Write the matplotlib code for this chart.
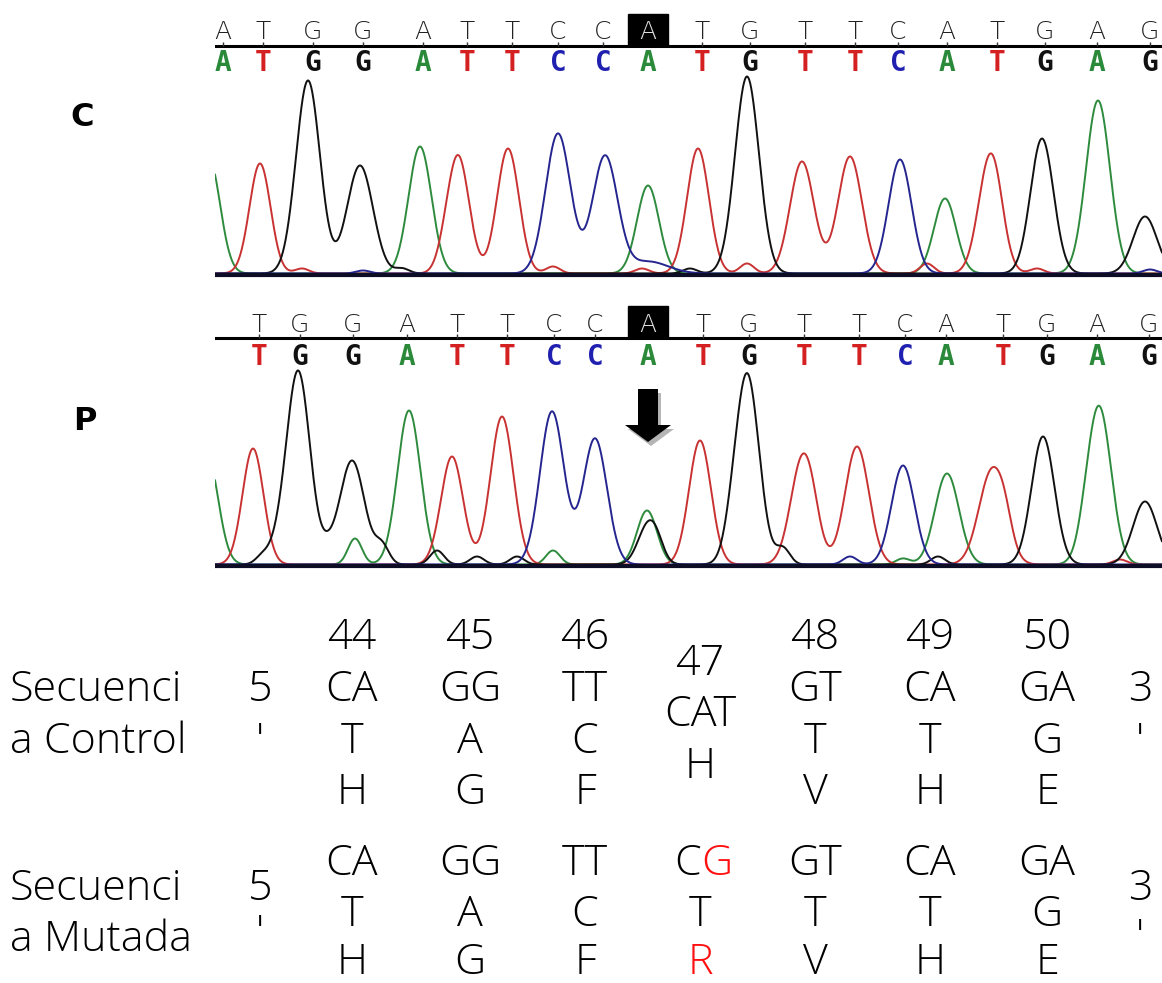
import numpy as np
import matplotlib
matplotlib.use("Agg")
import matplotlib.pyplot as plt
from matplotlib.patches import Rectangle, FancyArrow

W, H = 1162, 983

# ---------------- data ----------------
# Control (C) chromatogram: called bases & positions
c_bases = list("ATGGATTCCATGTTCATGAG")
c_pos = [223, 263, 313, 363, 423, 467, 512, 558, 603, 648,
         702, 750, 805, 855, 898, 947, 997, 1045, 1097, 1150]
# main peaks (base, scan position, intensity, width)
c_peak_base = list("ATGGATTCCATGTTCATGAG") + ["C"]
c_peak_pos = [209, 260, 308, 360, 420, 458, 508, 558, 605, 648,
              698, 747, 802, 850, 900, 945, 990, 1042, 1098, 1145, 648]
c_peak_h = [115, 110, 193, 108, 127, 118, 125, 140, 117, 88,
            125, 197, 112, 117, 114, 75, 115, 135, 173, 57, 12]
c_peak_w = [11, 10.5, 12, 13, 11.5, 11, 11, 12.5, 12.5, 11,
            11, 12, 12, 12, 11.5, 11, 11.5, 11.5, 12, 12, 20]
# small background humps
c_minor_base = list("TCGTTTGTTTTC")
c_minor_pos = [302, 363, 402, 443, 553, 642, 690, 747, 927, 997, 1037, 1150]
c_minor_h = [5, 3, 5, 5, 7, 5, 5, 10, 10, 8, 5, 4]

# Patient (P) chromatogram
p_bases = list("TGGATTCCATGTTCATGAG")
p_pos = [259, 300, 353, 407, 457, 507, 554, 595, 648, 703,
         749, 804, 859, 905, 946, 1003, 1047, 1097, 1149]
p_peak_base = list("ATGGATTCCAGTGTTCATGAG")
p_peak_pos = [207, 253, 298, 352, 409, 452, 502, 552, 595, 647, 648,
              700, 747, 803, 857, 903, 947, 992, 1043, 1099, 1145]
p_peak_h = [110, 116, 194, 104, 154, 108, 148, 153, 126, 54, 39,
            124, 191, 108, 118, 99, 91, 94, 128, 158, 63]
p_peak_w = [11, 10.5, 12, 12.5, 11.5, 11, 11.5, 12, 12, 10, 10,
            11, 12, 12, 12, 11.5, 12, 13, 11.5, 12, 12]
p_minor_base = list("GGGAGGGGAGTCGAGGTAT")
p_minor_pos = [263, 276, 327, 355, 382, 437, 477, 517, 553, 730,
               813, 850, 657, 903, 783, 938, 1005, 1085, 1120]
p_minor_h = [9, 8, 9, 26, 18, 14, 8, 8, 14, 8,
             8, 8, 10, 6, 16, 8, 16, 6, 5]

# sequence table
codon_num = ["44", "45", "46", "47", "48", "49", "50"]
codon_ctrl = ["CAT", "GGA", "TTC", "CAT", "GTT", "CAT", "GAG"]
aa_ctrl = ["H", "G", "F", "H", "V", "H", "E"]
codon_mut = ["CAT", "GGA", "TTC", "CGT", "GTT", "CAT", "GAG"]
aa_mut = ["H", "G", "F", "R", "V", "H", "E"]
row_labels = [("Secuenci", "a Control"), ("Secuenci", "a Mutada")]

# ---------------- style ----------------
trace_col = {"A": "#2e8b3e", "T": "#c83232", "G": "#111111", "C": "#25258f"}
letter_col = {"A": "#2a8a3a", "T": "#d42020", "G": "#111111", "C": "#2020b0"}

fig = plt.figure(figsize=(W / 100, H / 100), dpi=100)


def rect(x0, y0, x1, y1):
    return [x0 / W, 1 - y1 / H, (x1 - x0) / W, (y1 - y0) / H]


def chromatogram(ax, base_lbl, lbl_pos, pk_b, pk_x, pk_h, pk_w,
                 mn_b, mn_x, mn_h, y_top, y_line, y_col, highlight_idx):
    x = np.linspace(215, 1162, 3000)
    for b in "ATGC":
        y = np.zeros_like(x)
        for bb, px, ph, pw in zip(pk_b, pk_x, pk_h, pk_w):
            if bb == b:
                y += ph * np.exp(-0.5 * ((x - px) / pw) ** 2)
        for bb, px, ph in zip(mn_b, mn_x, mn_h):
            if bb == b:
                y += ph * np.exp(-0.5 * ((x - px) / 7) ** 2)
        ax.plot(x, y + 1.5, color=trace_col[b], lw=1.4, solid_capstyle="round")
    ax.axhline(0, color="#0d0d25", lw=3)
    ax.axhline(y_line, color="black", lw=2.2)
    for i, (b, px) in enumerate(zip(base_lbl, lbl_pos)):
        if i == highlight_idx:
            ax.add_patch(Rectangle((px - 20, y_line), 40, 32, color="black", zorder=3))
            ax.text(px, y_top, b, ha="center", va="center", color="#e0e0e0",
                    fontsize=18, family="DejaVu Sans", fontweight="light", zorder=4)
        else:
            ax.text(px, y_top, b, ha="center", va="center", color="#222222",
                    fontsize=18, family="DejaVu Sans", fontweight="light")
            ax.vlines(px, y_line, y_line + 4, color="#333333", lw=1)
        ax.text(px, y_col, b, ha="center", va="center", color=letter_col[b],
                fontsize=20, fontweight="bold", family="DejaVu Sans Mono")
    ax.set_xlim(215, 1162)
    ax.axis("off")


axC = fig.add_axes(rect(215, 8, 1162, 282))
axC.set_ylim(-7, 267)
chromatogram(axC, c_bases, c_pos, c_peak_base, c_peak_pos, c_peak_h, c_peak_w,
             c_minor_base, c_minor_pos, c_minor_h, 243, 229, 212, 9)

axP = fig.add_axes(rect(215, 298, 1162, 572))
axP.set_ylim(-6, 268)
chromatogram(axP, p_bases, p_pos, p_peak_base, p_peak_pos, p_peak_h, p_peak_w,
             p_minor_base, p_minor_pos, p_minor_h, 241, 228, 209, 8)

# mutation arrow (grey drop shadow, then black arrow)
axP.add_patch(FancyArrow(651, 173, 0, -53, width=20, head_width=46, head_length=17,
                         length_includes_head=True, color="#b5b5b5", lw=0, zorder=5))
axP.add_patch(FancyArrow(648, 177, 0, -53, width=20, head_width=46, head_length=17,
                         length_includes_head=True, color="black", lw=0, zorder=6))

# panel letters
fig.text(82 / W, 1 - 118 / H, "C", fontsize=23, fontweight="bold",
         ha="center", va="center", family="DejaVu Sans")
fig.text(85 / W, 1 - 422 / H, "P", fontsize=23, fontweight="bold",
         ha="center", va="center", family="DejaVu Sans")

# ---------------- sequence table ----------------
tfont = dict(fontsize=31, family=["Open Sans", "DejaVu Sans"], fontweight="light")


def t(x, y, s, color="black", ha="center"):
    fig.text(x / W, 1 - (y + 16) / H, s, ha=ha, va="baseline", color=color, **tfont)


col_x = [352, 470, 585, 700, 815, 930, 1047]

# control block
t(10, 685, row_labels[0][0], ha="left")
t(10, 737, row_labels[0][1], ha="left")
t(260, 685, "5")
t(260, 737, "'")
t(1140, 685, "3")
t(1140, 737, "'")
for i, cx in enumerate(col_x):
    if codon_num[i] == "47":
        t(cx, 659, codon_num[i])
        t(cx, 710, codon_ctrl[i])
        t(cx, 762, aa_ctrl[i])
    else:
        t(cx, 633, codon_num[i])
        t(cx, 685, codon_ctrl[i][:2])
        t(cx, 737, codon_ctrl[i][2:])
        t(cx, 788, aa_ctrl[i])

# mutant block
t(10, 884, row_labels[1][0], ha="left")
t(10, 935, row_labels[1][1], ha="left")
t(260, 884, "5")
t(260, 929, "'")
t(1140, 884, "3")
t(1140, 933, "'")
for i, cx in enumerate(col_x):
    c = codon_mut[i]
    if c != codon_ctrl[i]:
        t(cx + 1, 859, c[0], ha="right")
        t(cx + 1, 859, c[1], color="#ff1010", ha="left")
        t(cx, 910, c[2:])
        t(cx, 958, aa_mut[i], color="#ff1010")
    else:
        t(cx, 859, c[:2])
        t(cx, 910, c[2:])
        t(cx, 958, aa_mut[i])

fig.savefig("out.png", dpi=100, facecolor="white")
